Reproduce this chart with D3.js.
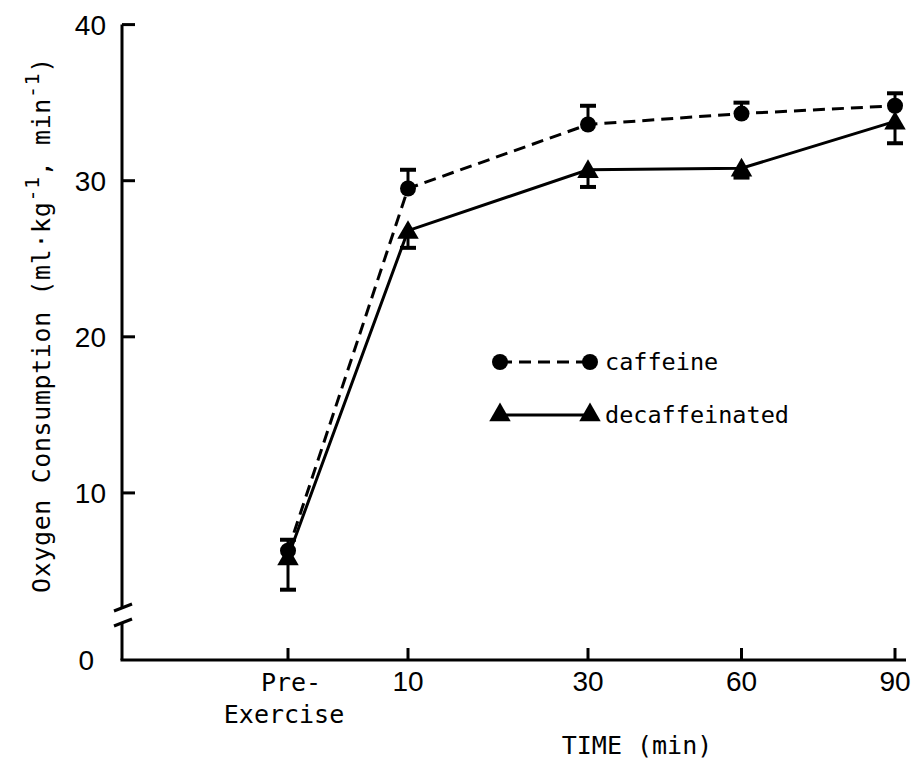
<!DOCTYPE html>
<html>
<head>
<meta charset="utf-8">
<script src="https://cdn.jsdelivr.net/npm/d3@7"></script>
<style>
  body { margin: 0; background: #fff; }
  svg { display: block; }
</style>
</head>
<body>
<svg id="chart" width="916" height="759"></svg>
<script>
// ---- data ----
const categories = ["Pre-Exercise", "10", "30", "60", "90"];
const timeValues = [0, 10, 30, 60, 90];            // position along the time axis
const caffeine = [6.3, 29.5, 33.6, 34.3, 34.8];
const caffeineErr = [0.7, 1.2, 1.2, 0.7, 0.8];      // drawn upward
const decaf = [5.9, 26.8, 30.7, 30.8, 33.8];
const decafErr = [2.1, 1.1, 1.1, 0.6, 1.4];         // drawn downward
const yTicks = [10, 20, 30, 40];
const seriesNames = ["caffeine", "decaffeinated"];

const svg = d3.select("#chart");
const ink = "#000";
const monoFont = "'DejaVu Sans Mono', 'Liberation Mono', monospace";
const numFont = "'Liberation Sans', Arial, sans-serif";

// piecewise scales (break on y-axis between 0 and ~2.5; uneven time spacing on x)
const x = d3.scaleLinear().domain([0, 10, 30, 90]).range([288, 408, 588, 895]);
const y = d3.scaleLinear().domain([0, 2.5, 40]).range([660, 610, 24.6]);
const axisX0 = 122;

// ---- y axis (with break) ----
const gy = svg.append("g");
gy.append("line").attr("x1", axisX0).attr("x2", axisX0)
  .attr("y1", y(40)).attr("y2", y(2.5) - 3).attr("stroke", ink).attr("stroke-width", 3);
gy.append("line").attr("x1", axisX0).attr("x2", axisX0)
  .attr("y1", y(2.5) + 12).attr("y2", y(0)).attr("stroke", ink).attr("stroke-width", 3);
// break slashes
[y(2.5) - 3, y(2.5) + 12].forEach(yy => {
  gy.append("line").attr("x1", axisX0 - 8).attr("y1", yy + 4)
    .attr("x2", axisX0 + 10).attr("y2", yy - 3)
    .attr("stroke", ink).attr("stroke-width", 3);
});
// ticks (inward)
yTicks.forEach(t => {
  gy.append("line").attr("x1", axisX0).attr("x2", axisX0 + 13)
    .attr("y1", y(t)).attr("y2", y(t)).attr("stroke", ink).attr("stroke-width", 3);
  gy.append("text").attr("x", 106).attr("y", y(t)).attr("dy", "0.36em")
    .attr("text-anchor", "end").attr("font-family", numFont).attr("font-size", 28)
    .text(t);
});
gy.append("text").attr("x", 94).attr("y", y(0)).attr("dy", "0.36em")
  .attr("text-anchor", "end").attr("font-family", numFont).attr("font-size", 28).text(0);

// ---- x axis ----
const gx = svg.append("g");
gx.append("line").attr("x1", axisX0 - 1.5).attr("x2", 906)
  .attr("y1", y(0)).attr("y2", y(0)).attr("stroke", ink).attr("stroke-width", 3);
categories.forEach((c, i) => {
  const px = x(timeValues[i]);
  gx.append("line").attr("x1", px).attr("x2", px)
    .attr("y1", y(0)).attr("y2", y(0) - 12).attr("stroke", ink).attr("stroke-width", 3);
  if (c === "Pre-Exercise") {
    const t = gx.append("text").attr("text-anchor", "middle")
      .attr("font-family", monoFont).attr("font-size", 25);
    t.append("tspan").attr("x", px + 3).attr("y", 691).text("Pre-");
    t.append("tspan").attr("x", px - 4).attr("y", 723).text("Exercise");
  } else {
    gx.append("text").attr("x", px).attr("y", 691).attr("text-anchor", "middle")
      .attr("font-family", numFont).attr("font-size", 28).text(c);
  }
});
svg.append("text").attr("x", 637).attr("y", 754).attr("text-anchor", "middle")
  .attr("font-family", monoFont).attr("font-size", 25).text("TIME (min)");

// ---- y axis title ----
const yt = svg.append("text")
  .attr("transform", `translate(50, 325) rotate(-90)`)
  .attr("text-anchor", "middle").attr("font-family", monoFont).attr("font-size", 25)
  .attr("letter-spacing", 0.6);
yt.append("tspan").text("Oxygen Consumption (ml\u00b7kg");
yt.append("tspan").attr("dy", -11).attr("font-size", 20).text("-1");
yt.append("tspan").attr("dy", 11).text(", min");
yt.append("tspan").attr("dy", -11).attr("font-size", 20).text("-1");
yt.append("tspan").attr("dy", 11).text(")");

// ---- series ----
const line = d3.line().x((d, i) => x(timeValues[i])).y(d => y(d));

// error bars
function errorBars(vals, errs, dir) {
  const g = svg.append("g");
  vals.forEach((v, i) => {
    const px = x(timeValues[i]);
    const end = v + dir * errs[i];
    g.append("line").attr("x1", px).attr("x2", px).attr("y1", y(v)).attr("y2", y(end))
      .attr("stroke", ink).attr("stroke-width", 3);
    g.append("line").attr("x1", px - 8).attr("x2", px + 8).attr("y1", y(end)).attr("y2", y(end))
      .attr("stroke", ink).attr("stroke-width", 4);
  });
}
errorBars(caffeine, caffeineErr, 1);
errorBars(decaf, decafErr, -1);

svg.append("path").datum(caffeine).attr("d", line).attr("fill", "none")
  .attr("stroke", ink).attr("stroke-width", 3).attr("stroke-dasharray", "12,7");
svg.append("path").datum(decaf).attr("d", line).attr("fill", "none")
  .attr("stroke", ink).attr("stroke-width", 3);

const tri = d3.symbol().type(d3.symbolTriangle).size(200);
svg.append("g").selectAll("circle").data(caffeine).join("circle")
  .attr("cx", (d, i) => x(timeValues[i])).attr("cy", d => y(d)).attr("r", 8).attr("fill", ink);
svg.append("g").selectAll("path").data(decaf).join("path")
  .attr("d", tri).attr("transform", (d, i) => `translate(${x(timeValues[i])},${y(d) + 2})`)
  .attr("fill", ink);

// ---- legend ----
const lg = svg.append("g");
const lx1 = 500, lx2 = 590;
[[362, "12,7"], [415, null]].forEach(([ly, dash], k) => {
  lg.append("line").attr("x1", lx1).attr("x2", lx2).attr("y1", ly).attr("y2", ly)
    .attr("stroke", ink).attr("stroke-width", 3).attr("stroke-dasharray", dash);
  [lx1, lx2].forEach(px => {
    if (k === 0) lg.append("circle").attr("cx", px).attr("cy", ly).attr("r", 8).attr("fill", ink);
    else lg.append("path").attr("d", tri).attr("transform", `translate(${px},${ly})`).attr("fill", ink);
  });
  lg.append("text").attr("x", 605).attr("y", ly).attr("dy", "0.32em")
    .attr("font-family", monoFont).attr("font-size", 23.5).text(seriesNames[k]);
});
</script>
</body>
</html>
